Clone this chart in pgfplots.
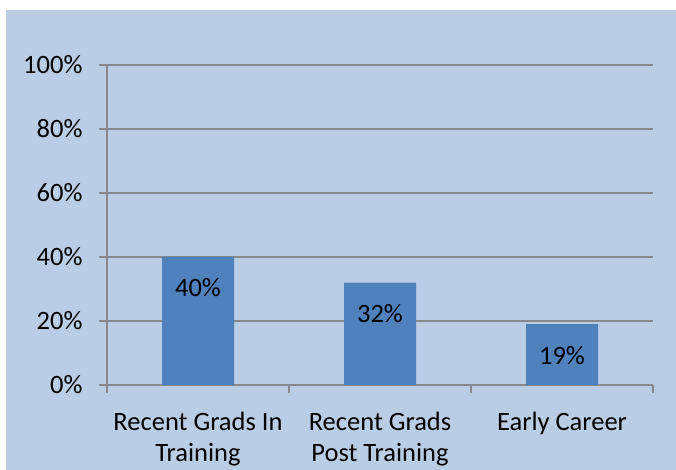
\documentclass[border=0pt]{standalone}
\usepackage{pgfplots}
\pgfplotsset{compat=1.18}
\usepackage{fontspec}
\setmainfont{Carlito}
\definecolor{bgblue}{HTML}{B9CDE5}
\definecolor{barblue}{HTML}{4F81BD}
\definecolor{gridgray}{HTML}{888888}
\begin{document}
\begin{tikzpicture}[x=1pt,y=1pt]
\fill[white] (0,0) rectangle (676,470);
\fill[bgblue] (6,-5) rectangle (681,460);
\begin{axis}[
    at={(107pt,85pt)}, anchor=south west,
    scale only axis,
    width=546pt, height=320pt,
    xmin=0.5, xmax=3.5,
    ymin=0, ymax=100,
    axis x line*=bottom, axis y line*=left,
    axis line style={gridgray, line width=1.5pt, -},
    ytick={0,20,40,60,80,100},
    yticklabels={0\%,20\%,40\%,60\%,80\%,100\%},
    xtick={1,2,3},
    xticklabels={{Recent Grads In\\Training},{Recent Grads\\Post Training},{Early Career}},
    minor xtick={0.5,1.5,2.5,3.5},
    tick align=outside,
    major tick length=8pt,
    minor tick length=8pt,
    major x tick style={draw=none},
    every tick/.style={gridgray, line width=1.5pt},
    ymajorgrids,
    major grid style={gridgray, line width=1.5pt},
    tick label style={font=\fontsize{26.5}{31}\selectfont, text=black},
    x tick label style={align=center, yshift=-16pt},
    y tick label style={xshift=-13pt},
    ybar, bar width=72pt,
    nodes near coords={\pgfmathprintnumber{\pgfplotspointmeta}\%},
    every node near coord/.append style={font=\fontsize{26.5}{31}\selectfont, anchor=center, yshift=-31pt, text=black},
    /pgf/number format/assume math mode=true,
    clip=false,
]
\addplot[fill=barblue, draw=none] coordinates {(1,40) (2,32) (3,19)};
\end{axis}
\pgfresetboundingbox
\useasboundingbox (0,0) rectangle (676,470);
\end{tikzpicture}
\end{document}
